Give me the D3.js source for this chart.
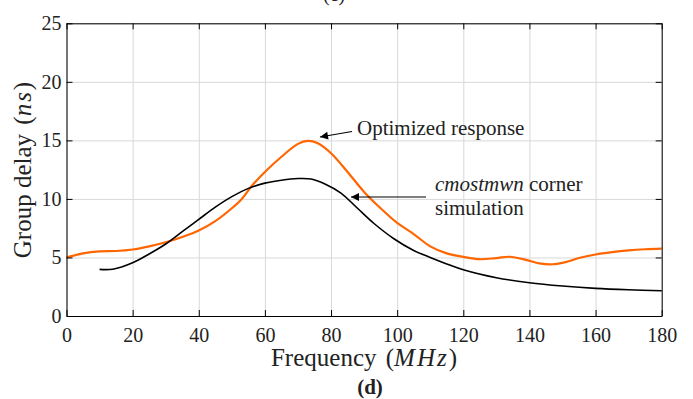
<!DOCTYPE html>
<html>
<head>
<meta charset="utf-8">
<script src="https://cdn.jsdelivr.net/npm/d3@7"></script>
<style>
body { margin: 0; background: #fff; }
</style>
</head>
<body>
<div></div>
<script>
// data
var optFreq = [0, 5, 10, 15, 20, 25, 30, 35, 40, 45, 50, 53, 56, 60, 65, 70, 73, 76, 80, 85, 90, 95, 100, 105, 110, 115, 120, 125, 130, 134, 139, 143, 147, 151, 155, 160, 165, 170, 175, 180];
var optDelay = [5.0, 5.35, 5.52, 5.55, 5.68, 5.95, 6.3, 6.75, 7.3, 8.1, 9.2, 10.0, 11.1, 12.3, 13.6, 14.7, 14.95, 14.75, 13.9, 12.3, 10.6, 9.2, 7.95, 7.0, 5.95, 5.35, 5.05, 4.85, 4.95, 5.06, 4.8, 4.5, 4.42, 4.6, 4.95, 5.25, 5.45, 5.6, 5.7, 5.76];
var simFreq = [10, 14, 20, 25, 30, 35, 40, 45, 50, 55, 60, 65, 70, 74, 78, 83, 88, 93, 99, 105, 110, 115, 120, 130, 140, 150, 160, 170, 180];
var simDelay = [3.98, 4.0, 4.55, 5.3, 6.15, 7.2, 8.25, 9.3, 10.2, 10.9, 11.35, 11.6, 11.74, 11.7, 11.3, 10.5, 9.2, 7.9, 6.6, 5.6, 5.0, 4.45, 3.95, 3.27, 2.84, 2.56, 2.36, 2.24, 2.16];
var xTicks = [0, 20, 40, 60, 80, 100, 120, 140, 160, 180];
var yTicks = [0, 5, 10, 15, 20, 25];

var serif = "'Liberation Serif', 'DejaVu Serif', serif";

var svg = d3.select("div")
.append("svg")
.attr("width", 693)
.attr("height", 399)
.style("font-family", serif)

var x = d3.scaleLinear().domain([0, 180]).range([66.5, 661.7]);
var y = d3.scaleLinear().domain([0, 25]).range([316, 23.3]);

// grid
svg.append("g")
.attr("transform", "translate(0,316)")
.call(d3.axisBottom(x).tickValues(xTicks).tickSize(-(316 - 23.3)).tickFormat(""))
.call(g => g.select(".domain").remove())
.call(g => g.selectAll("line").attr("stroke", "#d8d8d8"));
svg.append("g")
.attr("transform", "translate(66.5,0)")
.call(d3.axisLeft(y).tickValues(yTicks).tickSize(-(661.7 - 66.5)).tickFormat(""))
.call(g => g.select(".domain").remove())
.call(g => g.selectAll("line").attr("stroke", "#d8d8d8"));

// curves
var line = d3.line().curve(d3.curveCatmullRom.alpha(0.5));
svg.append("path")
.attr("d", line(optFreq.map((f, i) => [x(f), y(optDelay[i])])))
.attr("fill", "none")
.attr("stroke", "#ff6600")
.attr("stroke-width", 2.2);
svg.append("path")
.attr("d", line(simFreq.map((f, i) => [x(f), y(simDelay[i])])))
.attr("fill", "none")
.attr("stroke", "#000")
.attr("stroke-width", 1.6);

// axes (ticks point inward, box on all sides)
svg.append("g")
.attr("transform", "translate(0,316)")
.call(d3.axisBottom(x).tickValues(xTicks).tickSizeInner(-6).tickSizeOuter(0).tickPadding(12))
.attr("font-family", serif)
.call(g => g.selectAll("text").attr("font-size", 20).attr("fill", "#222").style("font-family", serif));
svg.append("g")
.attr("transform", "translate(66.5,0)")
.call(d3.axisLeft(y).tickValues(yTicks).tickSizeInner(-6).tickSizeOuter(0).tickPadding(5))
.attr("font-family", serif)
.call(g => g.selectAll("text").attr("font-size", 20).attr("fill", "#222").style("font-family", serif));
svg.append("g")
.attr("transform", "translate(0,23.3)")
.call(d3.axisTop(x).tickValues(xTicks).tickSizeInner(-6).tickSizeOuter(0).tickFormat(""));
svg.append("g")
.attr("transform", "translate(661.7,0)")
.call(d3.axisRight(y).tickValues(yTicks).tickSizeInner(-6).tickSizeOuter(0).tickFormat(""));

// axis titles
var xt = svg.append("text")
.attr("x", 364)
.attr("y", 366)
.attr("text-anchor", "middle")
.attr("font-size", 25).attr("fill", "#222");
xt.append("tspan").text("Frequency ");
xt.append("tspan").attr("dx", 3).text("(");
xt.append("tspan").attr("font-style", "italic").attr("letter-spacing", 2).text("MHz");
xt.append("tspan").text(")");

var yt = svg.append("text")
.attr("transform", "translate(31,170) rotate(-90)")
.attr("text-anchor", "middle")
.attr("font-size", 25).attr("fill", "#222");
yt.append("tspan").text("Group delay ");
yt.append("tspan").attr("dx", 3).text("(");
yt.append("tspan").attr("font-style", "italic").attr("letter-spacing", 2).text("ns");
yt.append("tspan").text(")");

svg.append("text").attr("x", 370).attr("y", 394).attr("text-anchor", "middle")
.attr("font-size", 21).attr("font-weight", "bold").attr("fill", "#222").text("(d)");
svg.append("text").attr("x", 334).attr("y", 1).attr("text-anchor", "middle")
.attr("font-size", 20).attr("fill", "#222").text("(c)");

// annotations
svg.append("defs").append("marker")
.attr("id", "head")
.attr("viewBox", "0 0 10 10")
.attr("refX", 10).attr("refY", 5)
.attr("markerWidth", 11).attr("markerHeight", 8)
.attr("markerUnits", "userSpaceOnUse")
.attr("orient", "auto")
.append("path").attr("d", "M0,0L10,5L0,10z").attr("fill", "#000");

svg.append("line")
.attr("x1", 352).attr("y1", 131.5).attr("x2", 320).attr("y2", 137)
.attr("stroke", "#000").attr("stroke-width", 1.2).attr("marker-end", "url(#head)");
svg.append("line")
.attr("x1", 426).attr("y1", 197).attr("x2", 351).attr("y2", 197)
.attr("stroke", "#000").attr("stroke-width", 1.2).attr("marker-end", "url(#head)");

svg.append("text").attr("x", 357).attr("y", 135).attr("font-size", 21).attr("fill", "#222").text("Optimized response");
var ct = svg.append("text").attr("x", 435).attr("y", 191).attr("font-size", 21).attr("fill", "#222");
ct.append("tspan").attr("font-style", "italic").text("cmostmwn");
ct.append("tspan").text(" corner");
svg.append("text").attr("x", 435).attr("y", 215).attr("font-size", 21).attr("fill", "#222").text("simulation");
</script>
</body>
</html>
